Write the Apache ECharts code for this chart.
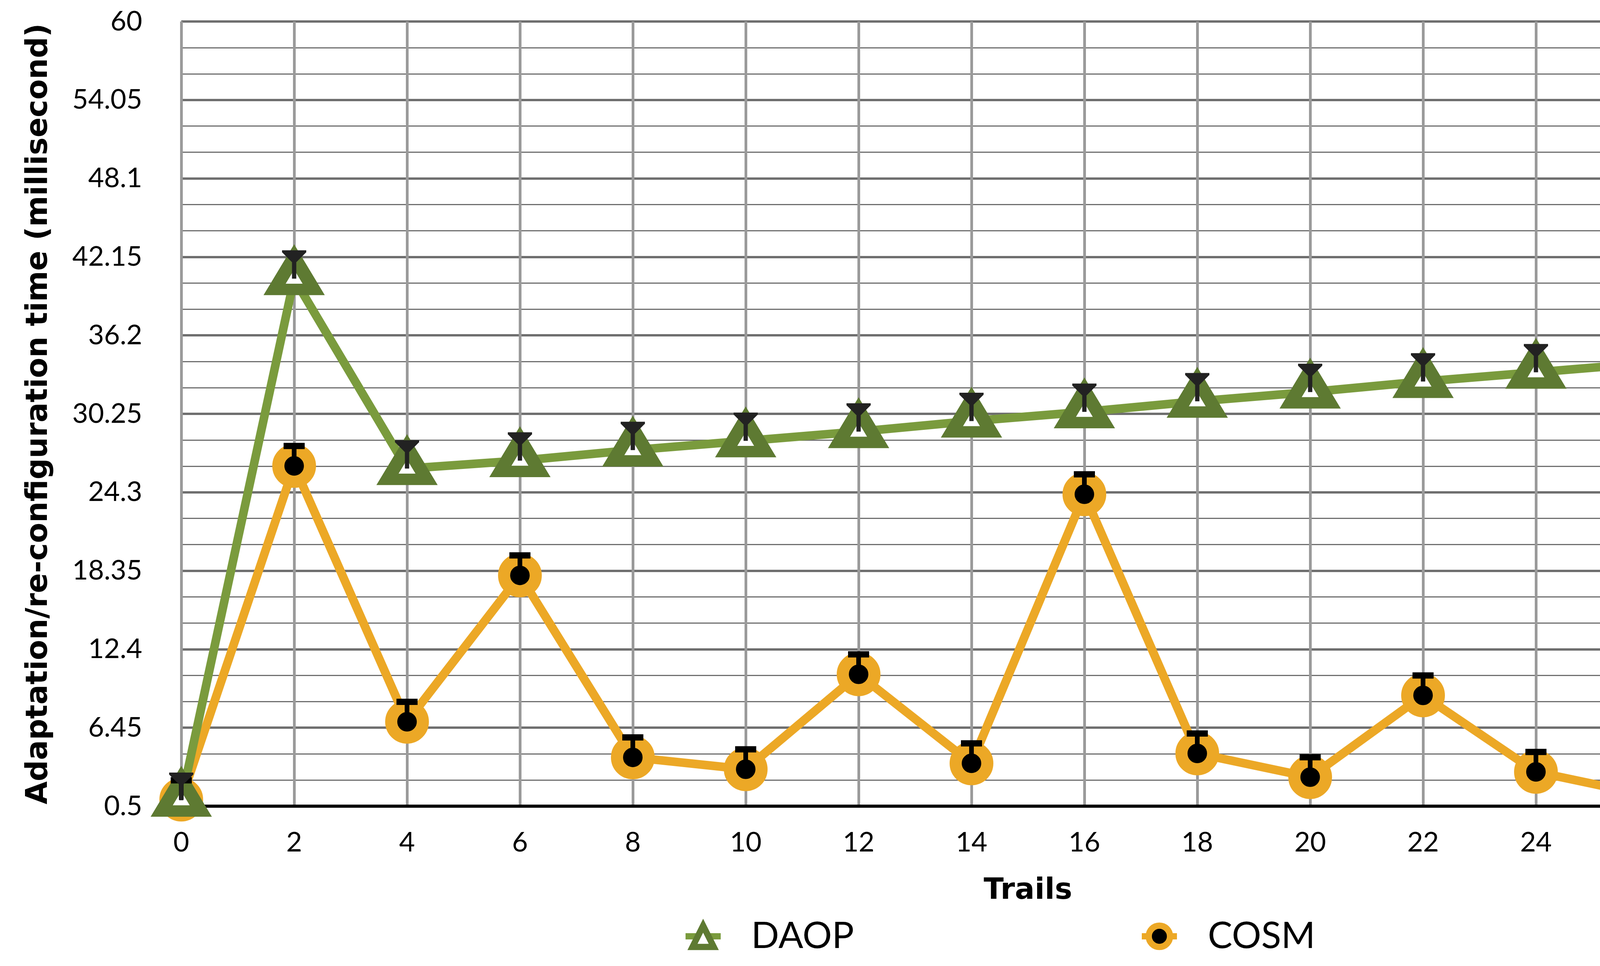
<!DOCTYPE html>
<html>
<head>
<meta charset="utf-8">
<script src="https://cdn.jsdelivr.net/npm/echarts@6/dist/echarts.min.js"></script>
<style>
  html, body { margin: 0; padding: 0; background: #fff; }
  #main { width: 4921px; height: 2472px; }
</style>
</head>
<body>
<div id="main"></div>
<script>
// trials on the x axis
var trails = [0, 2, 4, 6, 8, 10, 12, 14, 16, 18, 20, 22, 24, 26, 28, 30];
// DAOP values + upper error
var daop = [0.95, 40.5, 26.1, 26.7, 27.5, 28.2, 28.9, 29.7, 30.4, 31.2, 31.9, 32.7, 33.4, 34.1, 34.8, 35.6];
var daopErr = [2.1, 2.15, 2.15, 2.15, 2.15, 2.15, 2.15, 2.15, 2.15, 2.15, 2.15, 2.15, 2.15, 2.15, 2.15, 2.15];
// COSM values + upper error
var cosm = [1.0, 26.3, 6.9, 18.0, 4.2, 3.3, 10.5, 3.75, 24.15, 4.5, 2.7, 8.9, 3.1, 1.3, 6.45, 7.55];
var cosmErr = [1.7, 1.75, 1.75, 1.75, 1.75, 1.75, 1.75, 1.75, 1.75, 1.75, 1.75, 1.75, 1.75, 1.75, 1.75, 1.75];

var FONT = 'Lato';
var TITLE_FONT = 'DejaVu Sans';

function pairs(vals) {
  return trails.map(function (t, i) { return [t, vals[i]]; });
}
function triples(vals, errs) {
  return trails.map(function (t, i) { return [t, vals[i], errs[i]]; });
}

// error bar drawing, kind 'tri' = DAOP style cap, 'bar' = flat cap
function errRender(kind) {
  return function (params, api) {
    var x = api.value(0), y = api.value(1), e = api.value(2);
    var p0 = api.coord([x, y]);
    var p1 = api.coord([x, y + e]);
    var cx = p0[0], top = p1[1];
    var kids = [];
    if (kind === 'tri') {
      kids.push({ type: 'rect', shape: { x: cx - 5.5, y: top + 18, width: 11, height: p0[1] - top - 18 }, style: { fill: '#222222' } });
      kids.push({ type: 'polygon', shape: { points: [[cx - 31, top], [cx + 31, top], [cx + 31, top + 5], [cx + 6, top + 30], [cx - 6, top + 30], [cx - 31, top + 5]] }, style: { fill: '#222222' } });
    } else {
      kids.push({ type: 'rect', shape: { x: cx - 6, y: top + 10, width: 12, height: p0[1] - top - 10 }, style: { fill: '#000000' } });
      kids.push({ type: 'rect', shape: { x: cx - 27, y: top, width: 54, height: 16 }, style: { fill: '#000000' } });
    }
    return { type: 'group', children: kids };
  };
}

var chart = echarts.init(document.getElementById('main'));
var option = {
  backgroundColor: '#ffffff',
  animation: false,
  grid: { left: 464, right: 122, top: 55, bottom: 409 },
  legend: [
    {
      data: ['DAOP'],
      left: 1742, top: 2344,
      itemWidth: 90, itemHeight: 68,
      itemStyle: { borderWidth: 16, borderJoin: 'miter' },
      lineStyle: { width: 16 },
      textStyle: { fontFamily: FONT, fontSize: 94, color: '#000', padding: [0, 0, 0, 73], lineHeight: 94 }
    },
    {
      data: ['COSM'],
      left: 2910, top: 2344,
      itemWidth: 90, itemHeight: 68,
      itemStyle: { borderWidth: 16 },
      lineStyle: { width: 16 },
      textStyle: { fontFamily: FONT, fontSize: 94, color: '#000', padding: [0, 0, 0, 74], lineHeight: 94 }
    }
  ],
  xAxis: {
    type: 'value',
    min: 0, max: 30, interval: 2,
    name: 'Trails',
    nameLocation: 'middle',
    nameGap: 180,
    nameTextStyle: { fontFamily: TITLE_FONT, fontWeight: 'bold', fontSize: 75, color: '#000' },
    axisLine: { show: true, lineStyle: { color: '#000', width: 8 } },
    axisTick: { show: false },
    axisLabel: { fontFamily: FONT, fontSize: 70, color: '#000', margin: 58 },
    splitLine: { show: true, lineStyle: { color: '#9a9a9a', width: 7 } }
  },
  yAxis: {
    type: 'value',
    min: 0.5, max: 60, interval: 5.95,
    name: 'Adaptation/re-configuration time (millisecond)',
    nameLocation: 'middle',
    nameRotate: 90,
    nameGap: 326,
    nameTextStyle: { fontFamily: TITLE_FONT, fontWeight: 'bold', fontSize: 76, color: '#000' },
    axisLine: { show: false },
    axisTick: { show: false },
    axisLabel: {
      fontFamily: FONT, fontSize: 70, color: '#000', margin: 100,
      formatter: function (v) { return String(+v.toFixed(2)); }
    },
    splitLine: { show: true, lineStyle: { color: '#6f6f6f', width: 6 } },
    minorTick: { show: false, splitNumber: 3 },
    minorSplitLine: { show: true, lineStyle: { color: '#6f6f6f', width: 3 } }
  },
  series: [
    {
      name: 'COSM',
      type: 'line',
      data: pairs(cosm),
      lineStyle: { color: '#eca826', width: 22 },
      symbol: 'circle',
      symbolSize: 81,
      itemStyle: { color: '#000000', borderColor: '#eca826', borderWidth: 31 },
      z: 2
    },
    {
      name: 'DAOP',
      type: 'line',
      data: pairs(daop),
      lineStyle: { color: '#7a9b3d', width: 22 },
      symbol: 'triangle',
      symbolSize: [100, 83],
      symbolOffset: [0, -14],
      itemStyle: { color: '#ffffff', borderColor: '#5e7a32', borderWidth: 32, borderJoin: 'miter' },
      z: 3
    },
    {
      name: 'COSM err',
      type: 'custom',
      data: triples(cosm, cosmErr),
      encode: { x: 0, y: 1 },
      renderItem: errRender('bar'),
      z: 5
    },
    {
      name: 'DAOP err',
      type: 'custom',
      data: triples(daop, daopErr),
      encode: { x: 0, y: 1 },
      renderItem: errRender('tri'),
      z: 5
    }
  ]
};
chart.setOption(option);
</script>
</body>
</html>
